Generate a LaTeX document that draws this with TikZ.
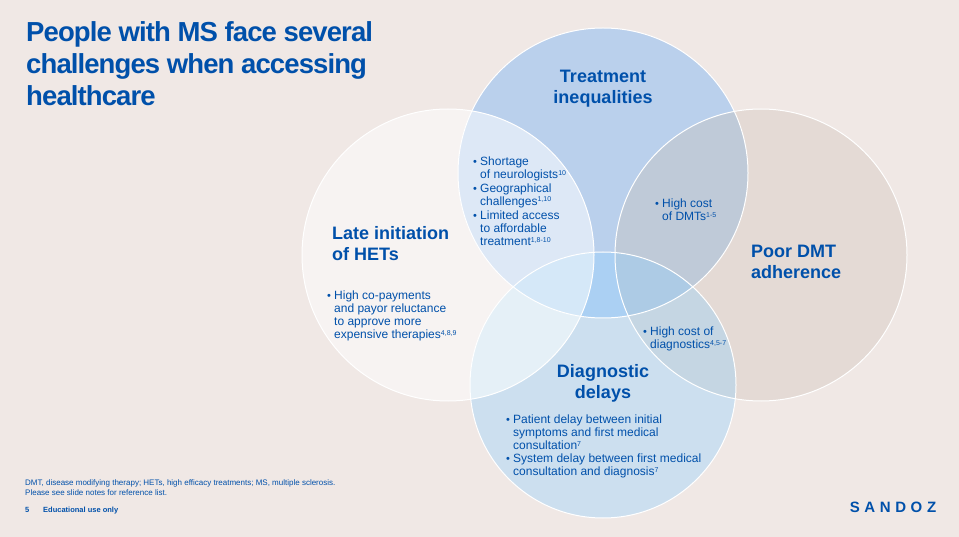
\documentclass[tikz,border=0pt]{standalone}
\usepackage{fontspec}
\setmainfont{Liberation Sans}
\definecolor{bgc}{HTML}{F0E8E5}
\definecolor{ink}{HTML}{0050AA}
\definecolor{cT}{HTML}{BAD0EC}
\definecolor{cL}{HTML}{F7F3F2}
\definecolor{cR}{HTML}{E4DAD5}
\definecolor{cB}{HTML}{CCDFEF}
\definecolor{cTL}{HTML}{DDE8F6}
\definecolor{cTR}{HTML}{BFCAD8}
\definecolor{cLB}{HTML}{E5F0F7}
\definecolor{cRB}{HTML}{C5D6E3}
\definecolor{cTB}{HTML}{ABD0F3}
\definecolor{cTLB}{HTML}{D5E8F8}
\definecolor{cTRB}{HTML}{ADCBE5}
\newcommand{\supr}[1]{\raisebox{0.3em}{\fontsize{7}{8}\selectfont #1}}
\newcommand{\blt}{\makebox[7pt][l]{\raisebox{0.02em}{\fontsize{11}{11}\selectfont •}}}
\newcommand{\ind}{\hspace*{7pt}}
\newcommand{\circT}{(603,-173) circle (145)}
\newcommand{\circL}{(448,-255) circle (146)}
\newcommand{\circR}{(761,-255) circle (146)}
\newcommand{\circB}{(603,-385) circle (133)}
\tikzset{
  x=1pt,y=1pt,
  title/.style={inner sep=0,anchor=north west,align=left,text=ink,font=\fontsize{27.5}{32}\bfseries\addfontfeatures{LetterSpace=-3.3}\selectfont},
  head/.style={inner sep=0,anchor=center,align=center,text=ink,font=\fontsize{18}{21}\bfseries\selectfont},
  headl/.style={head,align=left},
  body/.style={inner sep=0,anchor=north west,align=left,text=ink,font=\fontsize{12}{13}\selectfont},
  foot/.style={inner sep=0,anchor=north west,align=left,text=ink,font=\fontsize{8}{10}\selectfont},
  edge/.style={draw=white,line width=1pt}
}
\begin{document}
\begin{tikzpicture}
\useasboundingbox (0,0) rectangle (959,-537);
\fill[bgc] (0,0) rectangle (959,-537);
\fill[cL] \circL; \fill[cR] \circR; \fill[cT] \circT; \fill[cB] \circB;
\begin{scope}\clip \circT; \fill[cTL] \circL; \fill[cTR] \circR; \end{scope}
\begin{scope}\clip \circB; \fill[cLB] \circL; \fill[cRB] \circR; \end{scope}
\begin{scope}\clip \circB; \clip \circT; \fill[cTB] (400,0) rectangle (800,-537);
  \fill[cTLB] \circL; \fill[cTRB] \circR; \end{scope}
\draw[edge] \circL; \draw[edge] \circR; \draw[edge] \circT; \draw[edge] \circB;

\node[title] (ttl) at (26,-21) {People with MS face several\\challenges when accessing\\healthcare};

\node[head] (hT) at (603,-89) {Treatment\\inequalities};
\node[headl,anchor=north west] (hL) at (332,-226) {Late initiation\\of HETs};
\node[headl,anchor=north west] (hR) at (751,-245) {Poor DMT\\adherence};
\node[head] (hB) at (603,-383) {Diagnostic\\delays};

\node[body] (tT) at (473,-157) {\blt Shortage\\\ind of neurologists\supr{10}\\[0.5pt]\blt Geographical\\\ind challenges\supr{1,10}\\[1.5pt]\blt Limited access\\\ind to affordable\\\ind treatment\supr{1,8-10}};
\node[body] (tL) at (327,-291) {\blt High co-payments\\\ind and payor reluctance\\\ind to approve more\\\ind expensive therapies\supr{4,8,9}};
\node[body] (tR) at (655,-199) {\blt High cost\\\ind of DMTs\supr{1-5}};
\node[body] (tX) at (643,-327) {\blt High cost of\\\ind diagnostics\supr{4,5-7}};
\node[body] (tB) at (506,-415) {\blt Patient delay between initial\\\ind symptoms and first medical\\\ind consultation\supr{7}\\\blt System delay between first medical\\\ind consultation and diagnosis\supr{7}};

\node[foot] (fn) at (25,-480) {DMT, disease modifying therapy; HETs, high efficacy treatments; MS, multiple sclerosis.\\Please see slide notes for reference list.};
\node[foot,font=\fontsize{7.5}{9}\bfseries\selectfont] (pg) at (25,-507) {5};
\node[foot,font=\fontsize{7.5}{9}\bfseries\selectfont] (edu) at (43,-507) {Educational use only};
\node[inner sep=0,anchor=center,text=ink,font=\fontsize{15}{15}\bfseries\selectfont] (logo) at (893,-507.5) {S\hspace{4.6pt}A\hspace{4.6pt}N\hspace{4.6pt}D\hspace{4.6pt}O\hspace{4.6pt}Z};
\end{tikzpicture}
\end{document}
